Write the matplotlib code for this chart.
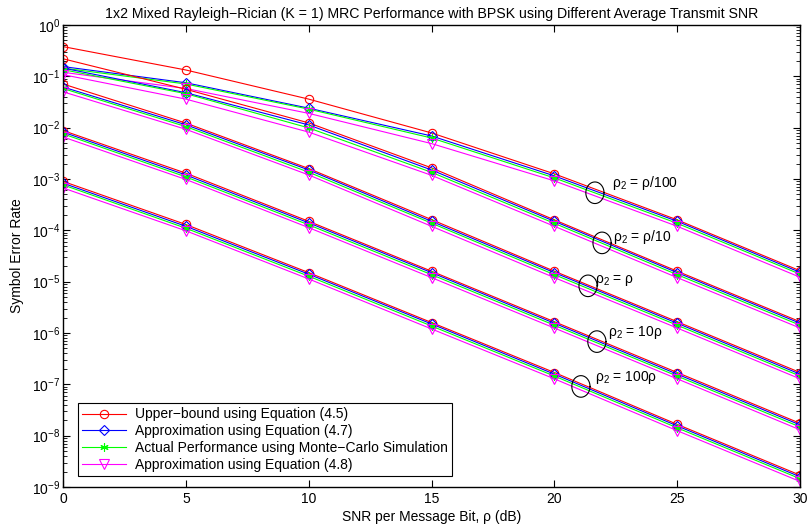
import matplotlib
matplotlib.use("Agg")
import matplotlib.pyplot as plt
import numpy as np

plt.rcParams['font.family'] = ['Liberation Sans', 'DejaVu Sans']
plt.rcParams['mathtext.fontset'] = 'custom'
plt.rcParams['mathtext.rm'] = 'Liberation Sans'
plt.rcParams['mathtext.it'] = 'Liberation Sans'
plt.rcParams['mathtext.default'] = 'regular'

# SNR per message bit (dB)
snr = [0, 5, 10, 15, 20, 25, 30]

# one row per rho_2 case: rho/100, rho/10, rho, 10rho, 100rho
upper_45 = [
    [0.38, 0.133, 0.036, 0.0079, 1.26e-3, 1.6e-4, 1.63e-5],
    [0.22, 0.056, 0.0124, 0.00165, 1.6e-4, 1.6e-5, 1.66e-6],
    [0.071, 0.0123, 0.0016, 1.62e-4, 1.6e-5, 1.66e-6, 1.7e-7],
    [8.8e-3, 1.3e-3, 1.5e-4, 1.6e-5, 1.66e-6, 1.7e-7, 1.74e-8],
    [9.0e-4, 1.3e-4, 1.5e-5, 1.6e-6, 1.7e-7, 1.66e-8, 1.7e-9],
]
approx_47 = [
    [0.155, 0.075, 0.024, 0.0069, 1.15e-3, 1.5e-4, 1.52e-5],
    [0.145, 0.048, 0.0113, 0.0015, 1.5e-4, 1.5e-5, 1.55e-6],
    [0.062, 0.0114, 0.0015, 1.5e-4, 1.5e-5, 1.55e-6, 1.58e-7],
    [8.2e-3, 1.2e-3, 1.4e-4, 1.5e-5, 1.55e-6, 1.58e-7, 1.62e-8],
    [8.3e-4, 1.2e-4, 1.4e-5, 1.5e-6, 1.58e-7, 1.55e-8, 1.58e-9],
]
monte_carlo = [
    [0.145, 0.071, 0.023, 0.0063, 1.05e-3, 1.37e-4, 1.4e-5],
    [0.135, 0.046, 0.0099, 0.00135, 1.37e-4, 1.37e-5, 1.42e-6],
    [0.058, 0.0105, 0.00136, 1.38e-4, 1.37e-5, 1.42e-6, 1.45e-7],
    [7.6e-3, 1.1e-3, 1.28e-4, 1.37e-5, 1.42e-6, 1.45e-7, 1.48e-8],
    [7.7e-4, 1.1e-4, 1.28e-5, 1.37e-6, 1.45e-7, 1.42e-8, 1.45e-9],
]
approx_48 = [
    [0.12, 0.058, 0.019, 0.0049, 9.2e-4, 1.2e-4, 1.22e-5],
    [0.108, 0.036, 0.0082, 0.00118, 1.2e-4, 1.2e-5, 1.25e-6],
    [0.05, 0.0093, 0.0012, 1.2e-4, 1.2e-5, 1.25e-6, 1.28e-7],
    [6.6e-3, 9.8e-4, 1.13e-4, 1.2e-5, 1.25e-6, 1.28e-7, 1.3e-8],
    [6.7e-4, 9.8e-5, 1.13e-5, 1.2e-6, 1.28e-7, 1.25e-8, 1.28e-9],
]

legend_labels = ['Upper\u2212bound using Equation (4.5)',
                 'Approximation using Equation (4.7)',
                 'Actual Performance using Monte\u2212Carlo Simulation',
                 'Approximation using Equation (4.8)']

# annotation ellipses (centre) and labels (left edge, middle)
case_labels = ['\u03c1$_2$ = \u03c1/100', '\u03c1$_2$ = \u03c1/10', '\u03c1$_2$ = \u03c1',
               '\u03c1$_2$ = 10\u03c1', '\u03c1$_2$ = 100\u03c1']
ellipse_x = [21.65, 21.94, 21.37, 21.73, 21.08]
ellipse_y = [5.4e-4, 5.7e-5, 8.3e-6, 6.8e-7, 9.1e-8]
label_x = [22.34, 22.38, 21.65, 22.18, 21.65]
label_y = [8.5e-4, 7.5e-5, 1.05e-5, 1.02e-6, 1.35e-7]

styles = [
    dict(color='#ff0000', marker='o', markersize=6),
    dict(color='#0000ff', marker='D', markersize=5),
    dict(color='#00ff00', marker=(6, 2, 0), markersize=6),
    dict(color='#ff00ff', marker='v', markersize=6.5),
]

fig = plt.figure(figsize=(8.07, 5.29), dpi=100)
ax = fig.add_axes([0.0781, 0.0794, 0.9133, 0.8733])

series = [upper_45, approx_47, monte_carlo, approx_48]
for k in range(5):
    for s, st in zip(series, styles):
        ax.semilogy(snr, s[k], linewidth=0.8, markerfacecolor='none',
                    markeredgewidth=0.8, **st)

# legend handles
handles = []
for lab, st in zip(legend_labels, styles):
    h, = ax.plot([], [], linewidth=0.8, markerfacecolor='none',
                 markeredgewidth=0.8, label=lab, **st)
    handles.append(h)

# ellipses marking each case
t = np.linspace(0, 2 * np.pi, 100)
for xc, yc, xl, yl, lab in zip(ellipse_x, ellipse_y, label_x, label_y, case_labels):
    ax.plot(xc + 0.37 * np.cos(t), yc * 10 ** (0.21 * np.sin(t)), color='k', linewidth=0.8)
    ax.text(xl, yl, lab, fontsize=10, ha='left', va='center')

ax.set_xlim(0, 30)
ax.set_ylim(1e-9, 1)
ax.set_xticks(snr)
ax.set_yticks([10.0 ** e for e in range(-9, 1)])
ax.tick_params(which='both', direction='in', top=True, right=True, labelsize=10)
ax.tick_params(axis='y', pad=2)
ax.tick_params(which='major', length=5, width=0.8)
ax.tick_params(which='minor', length=3, width=0.6)
for sp in ax.spines.values():
    sp.set_linewidth(1.0)

ax.set_title('1x2 Mixed Rayleigh\u2212Rician (K = 1) MRC Performance with BPSK using Different Average Transmit SNR',
             fontsize=10.2, pad=5)
ax.set_xlabel('SNR per Message Bit, \u03c1 (dB)', fontsize=10, labelpad=3)
ax.set_ylabel('Symbol Error Rate', fontsize=10, labelpad=6)

leg = ax.legend(handles=handles, loc='lower left', bbox_to_anchor=(0.02, 0.024),
                fontsize=10, handlelength=3.2, handletextpad=0.6, fancybox=False,
                edgecolor='k', framealpha=1, borderaxespad=0, labelspacing=0.2,
                borderpad=0.3)
leg.get_frame().set_linewidth(0.8)

fig.savefig('out.png', dpi=100)
